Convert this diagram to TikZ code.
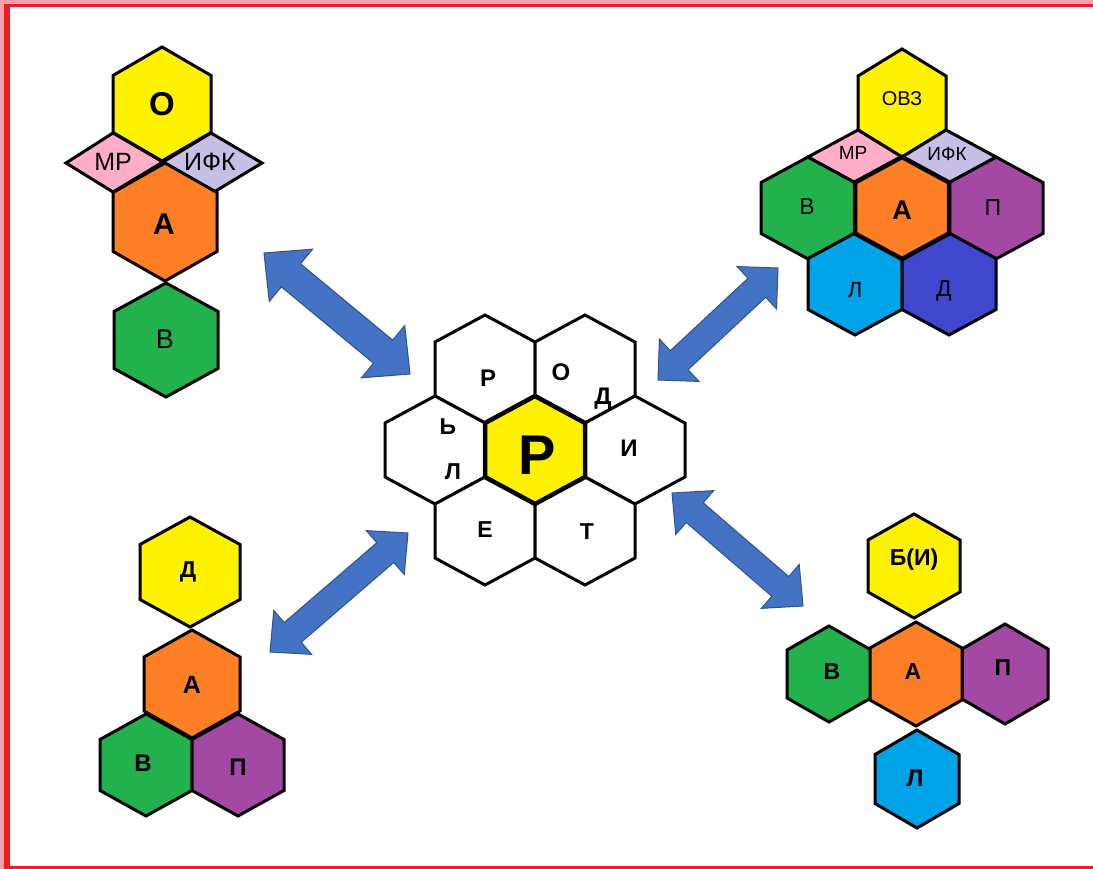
\documentclass[tikz,border=0pt]{standalone}
\usepackage{fontspec}
\setmainfont{Liberation Sans}
\usetikzlibrary{calc}
\definecolor{hyellow}{RGB}{255,242,0}
\definecolor{horange}{RGB}{255,127,39}
\definecolor{hgreen}{RGB}{34,177,76}
\definecolor{hpurple}{RGB}{163,73,164}
\definecolor{hpink}{RGB}{255,174,201}
\definecolor{hlav}{RGB}{200,191,231}
\definecolor{hcyan}{RGB}{0,162,232}
\definecolor{hindigo}{RGB}{63,72,204}
\definecolor{arrowblue}{RGB}{68,114,196}
\definecolor{arrowedge}{RGB}{47,82,143}
\definecolor{framered}{RGB}{237,28,36}
\definecolor{framepink}{RGB}{240,165,172}
\newcommand\fs[1]{\fontsize{#1}{#1}\selectfont}
% #1 name, #2 x, #3 y, #4 half width, #5 radius, #6 fill, #7 extra style
\newcommand\hexcell[7]{%
  \draw[hexline,fill=#6,#7] (#2,#3-#5) -- (#2+#4,#3-#5/2) -- (#2+#4,#3+#5/2) -- (#2,#3+#5) -- (#2-#4,#3+#5/2) -- (#2-#4,#3-#5/2) -- cycle;
  \coordinate (#1) at (#2,#3);}
% #1 start, #2 end, #3 shaft half width, #4 head half width, #5 head length
\newcommand\twowayarrow[5]{%
  \coordinate (#1h) at ($(#1)!#5!(#2)$);
  \coordinate (#2h) at ($(#2)!#5!(#1)$);
  \path[blockarrow] (#1) -- ($(#1h)!#4!90:(#2)$) -- ($(#1h)!#3!90:(#2)$) -- ($(#2h)!#3!-90:(#1)$) -- ($(#2h)!#4!-90:(#1)$) -- (#2) -- ($(#2h)!#4!90:(#1)$) -- ($(#2h)!#3!90:(#1)$) -- ($(#1h)!#3!-90:(#2)$) -- ($(#1h)!#4!-90:(#2)$) -- cycle;}
\tikzset{
  hexline/.style={draw=black,line width=3pt,line join=miter},
  thickhex/.style={line width=4.5pt},
  lbl/.style={inner sep=0pt,text=black},
  blockarrow/.style={fill=arrowblue,draw=arrowedge,line width=1pt,line join=miter}
}
\begin{document}
\begin{tikzpicture}[x=1pt,y=-1pt]
\useasboundingbox (0,0) rectangle (1093,869);
% frame
\fill[framepink] (0,0) rectangle (1093,869);
\fill[white] (4,4) rectangle (1093,869);
\fill[framered] (4,4) rectangle (1093,7);
\fill[framered] (4,4) rectangle (10,869);
\fill[framered] (10,866) rectangle (1093,869);

% ===== top-left group =====
\hexcell{tlO}{162}{104}{49}{57}{hyellow}{}
\hexcell{tlV}{166}{340}{52}{57}{hgreen}{}
\draw[hexline,fill=hpink] (66,163) -- (113,133) -- (163,162) -- (113,192) -- cycle;
\draw[hexline,fill=hlav] (163,162) -- (211,133) -- (262,163) -- (214,192) -- cycle;
\hexcell{tlA}{165}{222}{52}{59}{horange}{}
\node[lbl,font=\fs{33}\bfseries] (tlOt) at (162,104) {О};
\node[lbl,font=\fs{25}] (tlMR) at (113,162) {МР};
\node[lbl,font=\fs{25}] (tlIFK) at (210,162) {ИФК};
\node[lbl,font=\fs{30}\bfseries] (tlAt) at (164,224) {А};
\node[lbl,font=\fs{27}] (tlVt) at (165,339) {В};

% ===== top-right group =====
\hexcell{trOVZ}{902}{103}{44}{54}{hyellow}{}
\hexcell{trV}{808}{208}{47}{51}{hgreen}{}
\hexcell{trP}{996}{208}{47}{51}{hpurple}{}
\hexcell{trL}{855}{284}{47}{51}{hcyan}{}
\hexcell{trD}{949}{284}{47}{51}{hindigo}{}
\draw[hexline,fill=hpink] (808,157) -- (858,130) -- (902,157) -- (855,182.5) -- cycle;
\draw[hexline,fill=hlav] (902,157) -- (946,130) -- (996,157) -- (949,182.5) -- cycle;
\hexcell{trA}{902}{208}{47}{51}{horange}{thickhex}
\node[lbl,font=\fs{20}] (trOVZt) at (902,99) {ОВЗ};
\node[lbl,font=\fs{19}] (trMR) at (853,153) {МР};
\node[lbl,font=\fs{19}] (trIFK) at (947,154) {ИФК};
\node[lbl,font=\fs{23}] (trVt) at (807,207) {В};
\node[lbl,font=\fs{27}\bfseries] (trAt) at (902,210) {А};
\node[lbl,font=\fs{23}] (trPt) at (993,208) {П};
\node[lbl,font=\fs{22}] (trLt) at (855,290) {Л};
\node[lbl,font=\fs{23}] (trDt) at (944,291) {Д};

% ===== centre group =====
\hexcell{cR}{485}{369}{50}{54}{white}{}
\hexcell{cO}{585}{369}{50}{54}{white}{}
\hexcell{cL}{435}{450}{50}{54}{white}{}
\hexcell{cI}{635}{450}{50}{54}{white}{}
\hexcell{cE}{485}{531}{50}{54}{white}{}
\hexcell{cT}{585}{531}{50}{54}{white}{}
\hexcell{cC}{535}{450}{50}{54}{hyellow}{thickhex}
\node[lbl,font=\fs{56}\bfseries] (cCt) at (537,455) {Р};
\node[lbl,font=\fs{24}\bfseries] (cRt) at (488,378) {Р};
\node[lbl,font=\fs{24}\bfseries] (cOt) at (561,372) {О};
\node[lbl,font=\fs{24}\bfseries] (cDt) at (603,399) {Д};
\node[lbl,font=\fs{23}\bfseries] (cSoft) at (448,427) {Ь};
\node[lbl,font=\fs{23}\bfseries] (cLt) at (453,472) {Л};
\node[lbl,font=\fs{24}\bfseries] (cIt) at (629,448) {И};
\node[lbl,font=\fs{23}\bfseries] (cEt) at (485,530) {Е};
\node[lbl,font=\fs{23}\bfseries] (cTt) at (587,532) {Т};

% ===== bottom-left group =====
\hexcell{blD}{190}{572}{50}{55}{hyellow}{}
\hexcell{blV}{146}{765}{46}{51}{hgreen}{}
\hexcell{blP}{238}{765}{46}{51}{hpurple}{}
\hexcell{blA}{192}{684}{48}{54}{horange}{}
\node[lbl,font=\fs{23}\bfseries] (blDt) at (188,572) {Д};
\node[lbl,font=\fs{25}\bfseries] (blAt) at (192,685) {А};
\node[lbl,font=\fs{24}\bfseries] (blVt) at (143,763) {В};
\node[lbl,font=\fs{24}\bfseries] (blPt) at (238,767) {П};

% ===== bottom-right group =====
\hexcell{brB}{914}{566}{46}{52}{hyellow}{}
\hexcell{brV}{829}{674}{42}{48}{hgreen}{}
\hexcell{brP}{1005}{674}{43}{50}{hpurple}{}
\hexcell{brL}{917}{779}{42}{49}{hcyan}{}
\hexcell{brA}{916}{674}{46}{52}{horange}{}
\node[lbl,font=\fs{23}\bfseries] (brBt) at (914,560) {Б(И)};
\node[lbl,font=\fs{23}\bfseries] (brVt) at (832,672) {В};
\node[lbl,font=\fs{23}\bfseries] (brAt) at (913,672) {А};
\node[lbl,font=\fs{23}\bfseries] (brPt) at (1003,668) {П};
\node[lbl,font=\fs{24}\bfseries] (brLt) at (915,778) {Л};

% ===== arrows =====
\coordinate (a1s) at (264,253); \coordinate (a1e) at (410,374);
\coordinate (a2s) at (658,380); \coordinate (a2e) at (778,268);
\coordinate (a3s) at (270,652); \coordinate (a3e) at (408,533);
\coordinate (a4s) at (672,493); \coordinate (a4e) at (803,606);
\twowayarrow{a1s}{a1e}{15pt}{34pt}{35pt}
\twowayarrow{a2s}{a2e}{13pt}{29pt}{29pt}
\twowayarrow{a3s}{a3e}{13pt}{29pt}{30pt}
\twowayarrow{a4s}{a4e}{13pt}{29pt}{30pt}
\end{tikzpicture}
\end{document}
